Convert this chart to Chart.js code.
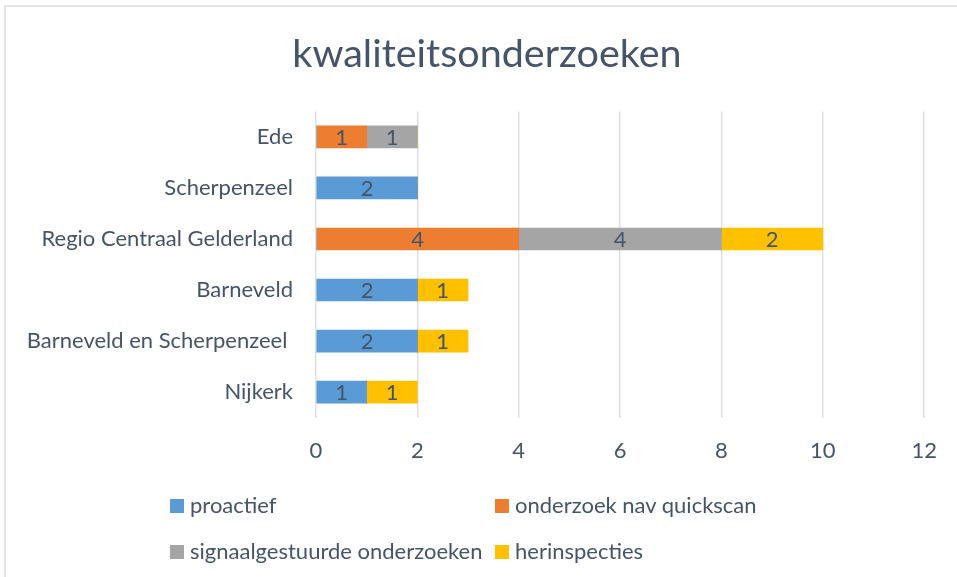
<!DOCTYPE html>
<html>
<head>
<meta charset="utf-8">
<script src="https://cdn.jsdelivr.net/npm/chart.js@4.4.1/dist/chart.umd.min.js"></script>
<style>
  html, body { margin: 0; padding: 0; background: #fff; overflow: hidden; }
  #wrap { position: relative; width: 957px; height: 577px; }
  #frame { position: absolute; left: 4px; top: 5px; width: 1000px; height: 600px; border: 2px solid #e1e4e8; box-sizing: border-box; }
  #myChart { position: absolute; left: 0; top: 0; }
  .leg { position: absolute; font-family: Lato, "Noto Sans", sans-serif; font-size: 22px; color: #44546a; line-height: 26px; white-space: nowrap; }
  .leg i { display: inline-block; width: 14px; height: 14px; margin-right: 6px; vertical-align: 0px; }
</style>
</head>
<body>
<div id="wrap">
  <div id="frame"></div>
  <canvas id="myChart" width="957" height="577"></canvas>
  <div id="legend"></div>
</div>
<script>
// categorieen (van boven naar beneden)
var categories = ["Ede", "Scherpenzeel", "Regio Centraal Gelderland", "Barneveld", "Barneveld en Scherpenzeel ", "Nijkerk"];
var seriesNames = ["proactief", "onderzoek nav quickscan", "signaalgestuurde onderzoeken", "herinspecties"];
var proactief = [0, 2, 0, 2, 2, 1];
var quickscan = [1, 0, 4, 0, 0, 0];
var signaal = [1, 0, 4, 0, 0, 0];
var herinspecties = [0, 0, 2, 1, 1, 1];
var xTicks = [0, 2, 4, 6, 8, 10, 12];
var colors = ["#5b9bd5", "#ed7d31", "#a5a5a5", "#ffc000"];

var textColor = "#44546a";
var fontFam = 'Lato, "Noto Sans", sans-serif';

// waarden in de balken
var barLabels = {
  id: 'barLabels',
  afterDatasetsDraw: function(chart){
    var ctx = chart.ctx;
    ctx.save();
    ctx.font = '22px ' + fontFam;
    ctx.fillStyle = textColor;
    ctx.textAlign = 'center';
    ctx.textBaseline = 'middle';
    chart.data.datasets.forEach(function(ds, i){
      var meta = chart.getDatasetMeta(i);
      meta.data.forEach(function(bar, j){
        var v = ds.data[j];
        if(!v) return;
        var p = bar.getCenterPoint();
        ctx.fillText(String(v), p.x, p.y + 1);
      });
    });
    ctx.restore();
  }
};

// titel iets naar rechts schuiven (midden van de hele grafiek)
var titleShift = {
  id: 'titleShift',
  afterLayout: function(chart){
    if(chart.titleBlock) chart.titleBlock.left = 48;
  }
};

var allData = [proactief, quickscan, signaal, herinspecties];
var datasets = [];
for(var i=0; i<seriesNames.length; i++){
  datasets.push({
    label: seriesNames[i],
    data: allData[i],
    backgroundColor: colors[i],
    barThickness: 22
  });
}

var ctx = document.getElementById('myChart').getContext('2d');
var myChart = new Chart(ctx, {
  type: 'bar',
  data: { labels: categories, datasets: datasets },
  plugins: [barLabels, titleShift],
  options: {
    responsive: false,
    animation: false,
    indexAxis: 'y',
    layout: { padding: { top: 8, right: 31, bottom: 93, left: 0 } },
    plugins: {
      legend: { display: false },
      tooltip: { enabled: false },
      title: {
        display: true,
        text: 'kwaliteitsonderzoeken',
        color: textColor,
        font: { family: fontFam, size: 39.5, weight: 'normal' },
        padding: { top: 23, bottom: 33 }
      }
    },
    scales: {
      x: {
        stacked: true,
        min: 0,
        max: 12,
        afterBuildTicks: function(scale){
          scale.ticks = xTicks.map(function(v){ return { value: v }; });
        },
        grid: { color: '#dde1e6', lineWidth: 1.5, drawTicks: false },
        border: { display: false },
        ticks: { color: textColor, font: { family: fontFam, size: 22 }, padding: 20 }
      },
      y: {
        stacked: true,
        afterFit: function(scale){ scale.width = 316; },
        grid: { display: false, drawTicks: false },
        border: { display: false },
        ticks: { color: textColor, font: { family: fontFam, size: 22 }, padding: 23 }
      }
    }
  }
});

// legenda in twee kolommen
var legPos = [[170, 492], [495, 492], [170, 538], [495, 538]];
var legHtml = '';
for(var k=0; k<seriesNames.length; k++){
  legHtml += '<div class="leg" style="left:' + legPos[k][0] + 'px;top:' + legPos[k][1] + 'px"><i style="background:' + colors[k] + '"></i>' + seriesNames[k] + '</div>';
}
document.getElementById('legend').innerHTML = legHtml;
</script>
</body>
</html>
